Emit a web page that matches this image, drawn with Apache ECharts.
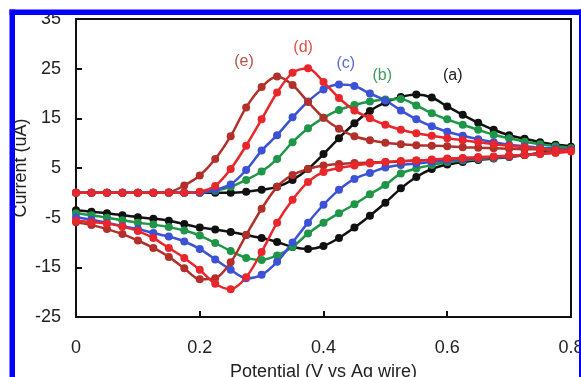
<!DOCTYPE html>
<html>
<head>
<meta charset="utf-8">
<script src="https://cdn.jsdelivr.net/npm/echarts@6/dist/echarts.min.js"></script>
<style>
  html, body { margin: 0; padding: 0; background: #fff; }
  #cv-chart { width: 581px; height: 377px; }
</style>
</head>
<body>
<div id="cv-chart"></div>
<script>
// potential steps, 0 -> 0.8 V
const potential = [0, 0.025, 0.05, 0.075, 0.1, 0.125, 0.15, 0.175, 0.2, 0.225, 0.25, 0.275, 0.3, 0.325, 0.35, 0.375, 0.4,
  0.425, 0.45, 0.475, 0.5, 0.525, 0.55, 0.575, 0.6, 0.625, 0.65, 0.675, 0.7, 0.725, 0.75, 0.775, 0.8];

// forward scans (0 -> 0.8), current in uA
const aForward = [0, 0, 0, 0, 0, 0, 0, 0, 0, 0, 0, 0.2, 0.6, 1.2, 2.6, 4.8, 7.8,
  11.0, 14.0, 16.5, 18.2, 19.3, 19.8, 19.2, 17.4, 15.7, 14.1, 12.7, 11.6, 10.9, 10.2, 9.7, 9.3];
const bForward = [0, 0, 0, 0, 0, 0, 0, 0, 0.1, 0.4, 1.2, 2.6, 4.3, 6.8, 10.2, 13.0, 15.1,
  16.7, 17.7, 18.4, 18.8, 18.9, 17.6, 16.0, 14.8, 13.7, 12.7, 11.7, 11.0, 10.3, 9.8, 9.4, 9.0];
const cForward = [0, 0, 0, 0, 0, 0, 0, 0, 0, 0.6, 1.7, 4.6, 8.5, 11.6, 15.2, 18.4, 20.8,
  21.8, 21.5, 20.0, 18.6, 16.6, 14.8, 13.4, 12.3, 11.5, 10.8, 10.2, 9.7, 9.4, 9.1, 8.9, 8.7];
const dForward = [0, 0, 0, 0, 0, 0, 0, 0, 0.2, 1.4, 4.8, 9.5, 14.8, 20.2, 24.2, 25.1, 22.3,
  19.1, 16.6, 15.0, 13.7, 12.7, 12.0, 11.5, 11.0, 10.6, 10.2, 9.8, 9.5, 9.2, 8.9, 8.6, 8.3];
const eForward = [0, 0, 0, 0, 0, 0, 0.1, 1.5, 3.5, 6.8, 11.4, 17.2, 21.3, 23.4, 21.7, 18.3, 15.1,
  12.9, 11.4, 10.6, 10.1, 9.8, 9.6, 9.5, 9.4, 9.2, 9.1, 9.0, 8.9, 8.8, 8.7, 8.6, 8.6];

// reverse scans (0.8 -> 0)
const aReverse = [9.3, 8.6, 8.0, 7.6, 7.2, 6.9, 6.6, 6.2, 5.7, 4.8, 3.2, 0.9, -2.0, -4.6, -7.0, -9.1, -10.7,
  -11.3, -10.9, -9.9, -9.1, -8.5, -7.9, -7.4, -7.0, -6.3, -5.6, -5.2, -4.9, -4.5, -4.1, -3.8, -3.5];
const bReverse = [9.0, 8.4, 7.9, 7.6, 7.3, 7.0, 6.8, 6.5, 6.2, 5.6, 4.9, 3.9, 1.6, -0.3, -2.3, -4.1, -6.0,
  -8.2, -10.9, -12.6, -13.5, -13.1, -11.7, -10.1, -8.6, -7.6, -6.9, -6.4, -6.0, -5.5, -5.0, -4.5, -4.1];
const cReverse = [8.7, 8.2, 7.8, 7.6, 7.3, 7.1, 6.9, 6.7, 6.5, 6.2, 5.9, 5.6, 5.1, 4.0, 2.8, 0.6, -2.4,
  -6.0, -10.0, -13.9, -16.5, -17.2, -15.5, -13.4, -11.3, -9.8, -8.8, -8.1, -7.3, -6.7, -6.0, -5.4, -4.9];
const dReverse = [8.3, 8.0, 7.8, 7.6, 7.5, 7.3, 7.2, 7.0, 6.9, 6.7, 6.5, 6.4, 6.2, 5.9, 5.5, 5.0, 4.2,
  2.2, -1.4, -6.0, -11.9, -17.0, -19.4, -18.3, -15.5, -13.1, -11.1, -9.1, -7.7, -6.8, -6.2, -5.9, -5.6];
const eReverse = [8.6, 8.2, 7.9, 7.6, 7.4, 7.2, 7.0, 6.9, 6.8, 6.6, 6.5, 6.3, 6.2, 6.1, 6.0, 5.8, 5.5,
  4.8, 3.6, 1.2, -3.2, -8.5, -14.0, -17.2, -17.4, -15.2, -12.9, -11.1, -9.6, -8.3, -7.3, -6.5, -5.9];

const curveNames = ['(a)', '(b)', '(c)', '(d)', '(e)'];
const yTicks = [-25, -15, -5, 5, 15, 25, 35];
// where each curve's tag sits, in axis units
const tagPotential = [0.609, 0.495, 0.436, 0.367, 0.2715];
const tagCurrent = [23.7, 23.7, 26.1, 29.2, 26.5];

const lineColors = ['#111111', '#1f9647', '#3b52d6', '#e8262b', '#b3302a'];
const tagColors = ['#222222', '#3f9a5c', '#5a6bcc', '#d9504a', '#b0524a'];
const font = 'Liberation Sans, Arial, sans-serif';

function loop(fwd, rev) {
  const pts = fwd.map((y, i) => [potential[i], y]);
  const n = potential.length - 1;
  rev.slice(1).forEach((y, i) => pts.push([potential[n - 1 - i], y]));
  return pts;
}

const loops = [
  loop(aForward, aReverse),
  loop(bForward, bReverse),
  loop(cForward, cReverse),
  loop(dForward, dReverse),
  loop(eForward, eReverse)
];

// draw order: a, b, c, e, d (red on top)
const order = [0, 1, 2, 4, 3];

const chart = echarts.init(document.getElementById('cv-chart'));

chart.setOption({
  animation: false,
  backgroundColor: '#fff',
  grid: {
    left: 76, right: 10, top: 19, bottom: 60,
    outerBoundsMode: 'none',
    show: true, borderColor: '#111', borderWidth: 2
  },
  xAxis: {
    type: 'value',
    min: 0, max: 0.8, interval: 0.2,
    name: 'Potential (V vs Ag wire)',
    nameLocation: 'middle',
    nameGap: 46,
    nameMoveOverlap: false,
    nameTextStyle: { fontSize: 18, color: '#222', fontFamily: font },
    axisLine: { onZero: false, lineStyle: { color: '#111', width: 2 } },
    axisTick: { inside: true, length: 6, lineStyle: { color: '#111', width: 2 } },
    axisLabel: { fontSize: 18, color: '#222', fontFamily: font, margin: 22 },
    splitLine: { show: false }
  },
  yAxis: {
    type: 'value',
    min: -25, max: 35,
    name: 'Current (uA)',
    nameLocation: 'middle',
    nameGap: 46,
    nameMoveOverlap: false,
    nameTextStyle: { fontSize: 18, color: '#222', fontFamily: font },
    axisLine: { onZero: false, lineStyle: { color: '#111', width: 2 } },
    axisTick: { inside: true, length: 6, customValues: yTicks, lineStyle: { color: '#111', width: 2 } },
    axisLabel: { fontSize: 18, color: '#222', fontFamily: font, margin: 15, customValues: yTicks },
    splitLine: { show: false }
  },
  series: order.map(k => ({
    name: curveNames[k],
    type: 'line',
    data: loops[k],
    smooth: 0.3,
    symbol: 'circle',
    symbolSize: 8,
    showSymbol: true,
    lineStyle: { color: lineColors[k], width: 2.5 },
    itemStyle: { color: lineColors[k] },
    markPoint: {
      symbol: 'circle',
      symbolSize: 0,
      silent: true,
      label: {
        show: true,
        position: 'inside',
        formatter: curveNames[k],
        color: tagColors[k],
        fontSize: 16,
        fontFamily: font
      },
      data: [{ coord: [tagPotential[k], tagCurrent[k]] }]
    }
  })),
  graphic: [
    { type: 'rect', z: 100, shape: { x: 9.5, y: 9.5, width: 572, height: 5.5 }, style: { fill: '#0000ff' } },
    { type: 'rect', z: 100, shape: { x: 9.5, y: 9.5, width: 5.5, height: 368 }, style: { fill: '#0000ff' } },
    { type: 'rect', z: 100, shape: { x: 579, y: 9.5, width: 3, height: 368 }, style: { fill: '#0000ff' } }
  ]
});
</script>
</body>
</html>
